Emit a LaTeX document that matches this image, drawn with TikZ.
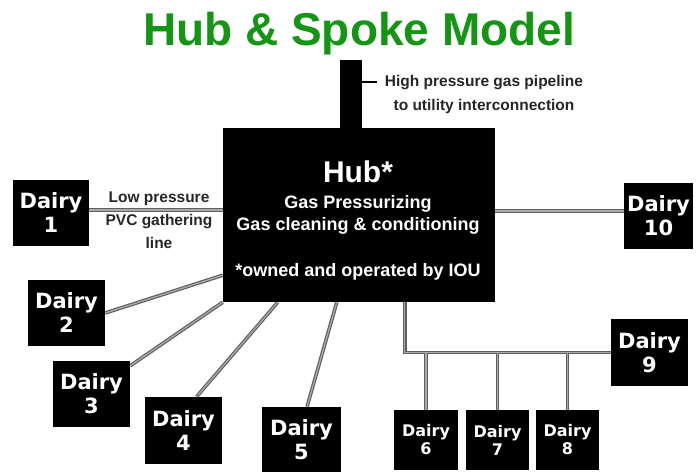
\documentclass[tikz,border=0pt]{standalone}
\usepackage{fontspec}
\setmainfont{Liberation Sans}
\newfontfamily\djsans{DejaVu Sans}
\usetikzlibrary{backgrounds,calc}
\definecolor{titlegreen}{RGB}{20,150,20}
\definecolor{pipedark}{RGB}{95,95,95}
\definecolor{pipelight}{RGB}{170,170,170}
\newcommand\pipenet[1]{%
  \draw[#1] (p1) -- (p1 -| hub.west);
  \draw[#1] (p10) -- (p10 -| hub.east);
  \draw[#1] (d2.east) -- (h2);
  \draw[#1] (p3) -- (hub.south west);
  \draw[#1] (p4) -- (h4);
  \draw[#1] (p5) -- (h5);
  \draw[#1] (h9) |- (d9.west);
  \draw[#1] (d6.north) -- (d6.north |- d9.west);
  \draw[#1] (d7.north) -- (d7.north |- d9.west);
  \draw[#1] (d8.north) -- (d8.north |- d9.west);
}
\begin{document}
\begin{tikzpicture}[x=1pt,y=-1pt,
  dairy/.style={fill=black,text=white,inner sep=0pt,align=center,
    font=\djsans\bfseries\fontsize{21}{24}\selectfont},
  dairysmall/.style={dairy,font=\djsans\bfseries\fontsize{16}{18}\selectfont},
  pipeout/.style={draw=pipedark,line width=3.6pt},
  pipein/.style={draw=pipelight,line width=1.3pt},
  hubtext/.style={text=white,anchor=base,inner sep=0pt,
    font=\bfseries\fontsize{18}{21}\selectfont},
  note/.style={text=black!85,align=center,inner sep=0pt,
    font=\bfseries\fontsize{15.5}{23}\selectfont}]

\useasboundingbox (0,0) rectangle (698,472);

% title
\node[anchor=base,inner sep=0pt,text=titlegreen,
  font=\bfseries\fontsize{46}{50}\selectfont] (title) at (359,45) {Hub \& Spoke Model};

% hub and stem
\node[fill=black,minimum width=272pt,minimum height=174pt,inner sep=0pt] (hub) at (359,215) {};
\node[fill=black,minimum width=22pt,minimum height=68pt,inner sep=0pt] (stem) at (351,94) {};
\node[hubtext,font=\bfseries\fontsize{30}{34}\selectfont] (hubtitle) at (358,182) {Hub*};
\node[hubtext] (hubl1) at (358,208) {Gas Pressurizing};
\node[hubtext] (hubl2) at (358,230) {Gas cleaning \& conditioning};
\node[hubtext] (hubl3) at (358,276) {*owned and operated by IOU};

% pipeline label
\node[note,font=\bfseries\fontsize{15.5}{24}\selectfont] (hp) at (484,94)
  {High pressure gas pipeline\\to utility interconnection};
\coordinate (tk) at (377,82);
\draw[line width=2.2pt] (stem.east |- tk) -- (tk);

% gathering line label
\node[note] (lp) at (159,220) {Low pressure\\PVC gathering\\line};

% dairies
\node[dairy,minimum width=76pt,minimum height=66pt] (d1) at (51,213) {Dairy\\1};
\node[dairy,minimum width=77pt,minimum height=66pt] (d2) at (66.5,313) {Dairy\\2};
\node[dairy,minimum width=77pt,minimum height=66pt] (d3) at (91.5,394) {Dairy\\3};
\node[dairy,minimum width=77pt,minimum height=67pt] (d4) at (183.5,430.5) {Dairy\\4};
\node[dairy,minimum width=79pt,minimum height=65pt] (d5) at (301.5,439.5) {Dairy\\5};
\node[dairysmall,minimum width=64pt,minimum height=60pt] (d6) at (426,440) {Dairy\\6};
\node[dairysmall,minimum width=63pt,minimum height=60pt] (d7) at (497.5,440) {Dairy\\7};
\node[dairysmall,minimum width=63pt,minimum height=60pt] (d8) at (567.5,440) {Dairy\\8};
\node[dairy,minimum width=77pt,minimum height=67pt] (d9) at (649.5,352.5) {Dairy\\9};
\node[dairy,minimum width=69pt,minimum height=66pt] (d10) at (658.5,216) {Dairy\\10};

% pipe anchor points
\coordinate (p1) at ([yshift=3pt]d1.east);
\coordinate (p10) at ([yshift=5pt]d10.west);
\coordinate (h2) at ([yshift=27pt]hub.south west);
\coordinate (p3) at ([yshift=-5pt]d3.north east);
\coordinate (p4) at ([xshift=13pt]d4.north);
\coordinate (h4) at ([xshift=55pt]hub.south west);
\coordinate (p5) at ([xshift=5.5pt]d5.north);
\coordinate (h5) at ([xshift=114pt]hub.south west);
\coordinate (h9) at ([xshift=182pt]hub.south west);

\begin{scope}[on background layer]
  \fill[white] (0,0) rectangle (698,472);
  \pipenet{pipeout}
  \pipenet{pipein}
\end{scope}
\end{tikzpicture}
\end{document}
